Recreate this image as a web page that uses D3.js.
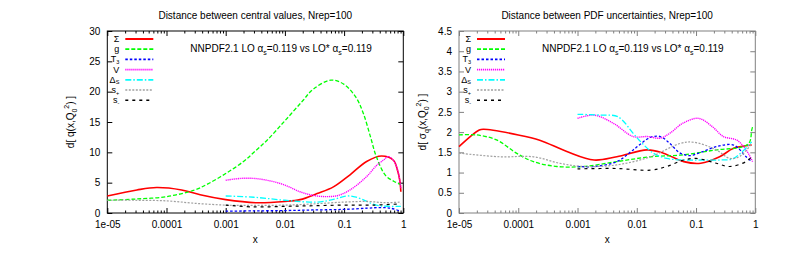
<!DOCTYPE html>
<html>
<head>
<meta charset="utf-8">
<script src="https://cdn.jsdelivr.net/npm/d3@7"></script>
<style>
  body { margin: 0; background: #fff; }
  text { font-family: "Liberation Sans", Arial, Helvetica, sans-serif; }
</style>
</head>
<body>
<svg id="chart" width="809" height="271"></svg>
<script>
// ---- data (x, d) ----
const xTicks = [1e-5, 1e-4, 1e-3, 1e-2, 1e-1, 1];
const xTickLabels = ["1e-05", "0.0001", "0.001", "0.01", "0.1", "1"];
const cvTicks = [0, 5, 10, 15, 20, 25, 30];
const unTicks = [0, 0.5, 1, 1.5, 2, 2.5, 3, 3.5, 4, 4.5];

// left: distance between central values
const cvSigma = [[1e-5,2.8],[3.16e-5,3.8],[6.8e-5,4.2],[1.8e-4,3.8],[3.7e-4,3.0],[1e-3,2.2],[3.2e-3,1.7],[0.01,1.9],[0.018,2.2],[0.035,3.2],[0.066,4.3],[0.126,6.3],[0.24,8.5],[0.43,9.4],[0.68,8.7],[0.8,7.0],[0.87,5.4],[0.91,3.5]];
const cvG = [[1e-5,2.1],[3e-5,2.3],[1e-4,2.7],[3e-4,3.8],[5e-4,4.8],[1e-3,6.5],[2e-3,8.5],[3e-3,10],[5e-3,12],[0.01,15.2],[0.02,18.5],[0.03,20.4],[0.06,21.9],[0.1,21.2],[0.16,19],[0.21,16.5],[0.28,12.5],[0.35,9.3],[0.5,6.2],[0.7,5.2],[0.91,4.7]];
const cvT3 = [[1e-3,0.3],[3e-3,0.35],[0.01,0.4],[0.03,0.5],[0.1,0.6],[0.25,0.8],[0.4,0.9],[0.6,0.8],[0.91,0.3]];
const cvV = [[1e-3,5.4],[1.8e-3,5.7],[3e-3,5.7],[5.6e-3,5.3],[0.01,4.6],[0.018,3.5],[0.03,2.9],[0.05,2.7],[0.08,2.9],[0.126,3.8],[0.24,6.0],[0.35,7.8],[0.46,8.7],[0.56,9.3],[0.7,8.5],[0.83,6.5],[0.91,4.1]];
const cvDS = [[1e-3,2.8],[3e-3,2.6],[0.01,2.1],[0.035,1.8],[0.07,2.3],[0.11,2.8],[0.16,2.6],[0.35,1.3],[0.6,1.1],[0.91,1.1]];
const cvSp = [[1e-5,2.1],[3e-5,2.1],[1e-4,2.0],[3e-4,1.6],[1e-3,1.3],[3e-3,1.25],[0.01,1.3],[0.03,1.5],[0.1,1.8],[0.25,1.9],[0.5,1.7],[0.91,1.8]];
const cvSm = [[1e-3,1.3],[3e-3,1.0],[0.01,1.1],[0.03,1.2],[0.1,1.3],[0.3,1.3],[0.91,1.5]];

// right: distance between PDF uncertainties
const unSigma = [[1e-5,1.64],[2.2e-5,2.05],[2.6e-5,2.07],[1e-4,1.93],[2.3e-4,1.8],[6.6e-4,1.52],[1.9e-3,1.31],[4.6e-3,1.39],[0.015,1.56],[0.028,1.48],[0.062,1.27],[0.12,1.23],[0.25,1.39],[0.43,1.6],[0.87,1.68]];
const unG = [[1e-5,1.93],[2e-5,1.93],[4.4e-5,1.8],[9.3e-5,1.48],[1.8e-4,1.27],[4.5e-4,1.15],[1.26e-3,1.15],[4.6e-3,1.27],[0.017,1.39],[0.062,1.44],[0.22,1.56],[0.63,1.64],[0.8,1.75],[0.87,2.05],[0.9,2.13]];
const unT3 = [[1e-3,1.15],[1.9e-3,1.15],[4.6e-3,1.27],[8.7e-3,1.56],[0.017,1.87],[0.025,1.89],[0.036,1.72],[0.054,1.48],[0.08,1.42],[0.12,1.5],[0.22,1.64],[0.43,1.68],[0.7,1.39],[0.87,1.27]];
const unV = [[1e-3,2.34],[1.9e-3,2.42],[4e-3,2.22],[8.7e-3,1.89],[0.015,1.89],[0.025,1.85],[0.036,1.97],[0.06,2.22],[0.11,2.34],[0.19,2.13],[0.29,1.89],[0.49,1.8],[0.7,1.56],[0.9,1.27]];
const unDS = [[1e-3,2.44],[2.5e-3,2.42],[4.8e-3,2.38],[8.7e-3,1.97],[0.011,1.8],[0.019,1.48],[0.032,1.35],[0.062,1.31],[0.12,1.31],[0.25,1.31],[0.43,1.35],[0.87,1.76]];
const unSp = [[1e-5,1.48],[4.9e-5,1.39],[1.8e-4,1.39],[5e-4,1.23],[1.26e-3,1.15],[4.6e-3,1.19],[0.017,1.39],[0.054,1.72],[0.091,1.75],[0.22,1.56],[0.37,1.35],[0.55,1.4],[0.87,1.72]];
const unSm = [[1e-3,1.09],[4.6e-3,1.1],[0.017,1.06],[0.032,1.15],[0.062,1.31],[0.1,1.35],[0.22,1.23],[0.37,1.15],[0.7,1.27],[0.87,1.39]];

// legend: [main, subscript]
const legendNames = [["Σ",""],["g",""],["T","3"],["V",""],["Δ","S"],["s","+"],["s","-"]];
const colors = ["#ff0000","#00ff00","#0000ff","#ff00ff","#00ffff","#a0a0a0","#000000"];
const dashes = [null,"4,2","2.5,2","1.2,0.8","6,2,1.5,2","2,1.5","3,4"];
const widths = [1.6,1.3,1.3,1.4,1.3,1.2,1.2];

const svg = d3.select("#chart");

function panel({left, right, top, bottom, yMax, yTicks, title, ylab, series, border}) {
  const x = d3.scaleLog([1e-5, 1], [left, right]);
  const y = d3.scaleLinear([0, yMax], [bottom, top]);
  const g = svg.append("g");

  const minors = [];
  for (let e = -5; e < 0; e++) for (let m = 2; m <= 9; m++) minors.push(m * Math.pow(10, e));

  const styleAxis = sel => {
    sel.select(".domain").remove();
    sel.selectAll("line").attr("stroke", border);
    sel.selectAll("text").attr("font-size", 10).attr("fill", "#000")
       .attr("font-family", '"Liberation Sans", Arial, sans-serif');
  };

  g.append("g").attr("transform", `translate(0,${bottom})`)
   .call(d3.axisBottom(x).tickValues(xTicks).tickFormat((d, i) => xTickLabels[i])
          .tickSizeInner(-5).tickSizeOuter(0).tickPadding(8)).call(styleAxis);
  g.append("g").attr("transform", `translate(0,${bottom})`)
   .call(d3.axisBottom(x).tickValues(minors).tickFormat("").tickSizeInner(-2.5).tickSizeOuter(0)).call(styleAxis);
  g.append("g").attr("transform", `translate(0,${top})`)
   .call(d3.axisTop(x).tickValues(xTicks).tickFormat("").tickSizeInner(-5).tickSizeOuter(0)).call(styleAxis);
  g.append("g").attr("transform", `translate(0,${top})`)
   .call(d3.axisTop(x).tickValues(minors).tickFormat("").tickSizeInner(-2.5).tickSizeOuter(0)).call(styleAxis);
  g.append("g").attr("transform", `translate(${left},0)`)
   .call(d3.axisLeft(y).tickValues(yTicks).tickFormat(d3.format("")).tickSizeInner(-5).tickSizeOuter(0).tickPadding(7)).call(styleAxis);
  g.append("g").attr("transform", `translate(${right},0)`)
   .call(d3.axisRight(y).tickValues(yTicks).tickFormat("").tickSizeInner(-5).tickSizeOuter(0)).call(styleAxis);

  g.append("rect").attr("x", left).attr("y", top)
   .attr("width", right - left).attr("height", bottom - top)
   .attr("fill", "none").attr("stroke", border).attr("stroke-width", 1);

  // curves
  const line = d3.line().x(d => x(d[0])).y(d => y(d[1])).curve(d3.curveCatmullRom.alpha(0.5));
  series.forEach((s, i) => {
    g.append("path").attr("d", line(s)).attr("fill", "none")
     .attr("stroke", colors[i]).attr("stroke-width", widths[i])
     .attr("stroke-dasharray", dashes[i]);
  });

  // legend
  legendNames.forEach((n, i) => {
    const ly = top + 8 + i * 10.2;
    const t = g.append("text").attr("x", left + 12).attr("y", ly + 3)
      .attr("text-anchor", "end").attr("font-size", 9).text(n[0]);
    if (n[1]) t.append("tspan").attr("font-size", 5.5).attr("dy", 1.5).text(n[1]);
    g.append("line").attr("x1", left + 18).attr("x2", left + 46)
     .attr("y1", ly).attr("y2", ly)
     .attr("stroke", colors[i]).attr("stroke-width", widths[i] + 0.4)
     .attr("stroke-dasharray", dashes[i]);
  });

  // annotation
  const a = g.append("text").attr("x", left + 83).attr("y", top + 21).attr("font-size", 10);
  a.append("tspan").text("NNPDF2.1 LO α");
  a.append("tspan").attr("font-size", 7).attr("dy", 3).text("s");
  a.append("tspan").attr("dy", -3).text("=0.119 vs LO* α");
  a.append("tspan").attr("font-size", 7).attr("dy", 3).text("s");
  a.append("tspan").attr("dy", -3).text("=0.119");

  // title and axis labels
  g.append("text").attr("x", (left + right) / 2).attr("y", 19)
   .attr("text-anchor", "middle").attr("font-size", 10).text(title);
  g.append("text").attr("x", (left + right) / 2).attr("y", 243)
   .attr("text-anchor", "middle").attr("font-size", 10).text("x");

  const yl = g.append("text").attr("transform", `translate(${left - 33},${(top + bottom) / 2}) rotate(-90)`)
   .attr("text-anchor", "middle").attr("font-size", 10);
  yl.append("tspan").text(ylab[0]);
  if (ylab[1]) yl.append("tspan").attr("font-size", 7).attr("dy", 3).text(ylab[1]);
  yl.append("tspan").attr("dy", ylab[1] ? -3 : 0).text("(x,Q");
  yl.append("tspan").attr("font-size", 7).attr("dy", 3).text("0");
  yl.append("tspan").attr("font-size", 7).attr("dy", -8).text("2");
  yl.append("tspan").attr("dy", 5).text(") ]");
}

panel({left: 107.3, right: 403.3, top: 31, bottom: 213, yMax: 30, yTicks: cvTicks,
       title: "Distance between central values, Nrep=100", ylab: ["d[ q", ""],
       series: [cvSigma, cvG, cvT3, cvV, cvDS, cvSp, cvSm], border: "#000"});
panel({left: 459, right: 755.3, top: 31, bottom: 213, yMax: 4.5, yTicks: unTicks,
       title: "Distance between PDF uncertainties, Nrep=100", ylab: ["d[ σ", "q"],
       series: [unSigma, unG, unT3, unV, unDS, unSp, unSm], border: "#808080"});
</script>
</body>
</html>
